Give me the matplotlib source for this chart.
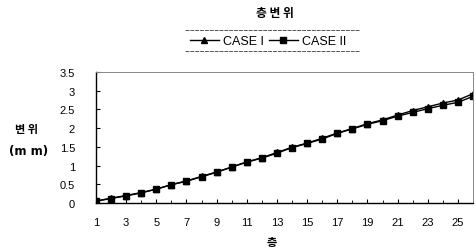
import matplotlib
matplotlib.use("Agg")
import matplotlib.pyplot as plt
from matplotlib.ticker import MultipleLocator
from matplotlib.lines import Line2D

plt.rcParams['font.family'] = ['Liberation Sans', 'Noto Sans CJK KR', 'DejaVu Sans']

floors = list(range(1, 27))
case1 = [0.05, 0.13, 0.20, 0.28, 0.37, 0.49, 0.59, 0.71, 0.83, 0.96, 1.10, 1.21, 1.35, 1.49, 1.60, 1.73,
         1.87, 1.99, 2.12, 2.22, 2.35, 2.47, 2.57, 2.67, 2.75, 2.92]
case2 = [0.05, 0.12, 0.19, 0.27, 0.37, 0.49, 0.58, 0.70, 0.82, 0.96, 1.09, 1.20, 1.33, 1.48, 1.59, 1.71,
         1.86, 1.98, 2.10, 2.20, 2.32, 2.42, 2.52, 2.61, 2.69, 2.85]
xticks = list(range(1, 26, 2))
yticks = [0, 0.5, 1, 1.5, 2, 2.5, 3, 3.5]
ytick_labels = ['0', '0.5', '1', '1.5', '2', '2.5', '3', '3.5']
title = "층 변 위"
labels = ["CASE I", "CASE II"]

W, H = 477, 253
fig = plt.figure(figsize=(W / 100, H / 100), dpi=100)
ax = fig.add_axes([96 / W, 1 - 204 / H, (473 - 96) / W, (204 - 73) / H])

ax.plot(floors, case1, color='black', lw=1.0, marker='^', ms=5, label=labels[0])
ax.plot(floors, case2, color='black', lw=1.0, marker='s', ms=4.5, label=labels[1])

ax.set_xlim(1, 26)
ax.set_ylim(0, 3.5)
ax.set_xticks(xticks)
ax.set_xticklabels([str(v) for v in xticks])
ax.xaxis.set_minor_locator(MultipleLocator(1))
ax.set_yticks(yticks)
ax.set_yticklabels(ytick_labels)

ax.tick_params(axis='both', labelsize=8, colors='black')
ax.tick_params(axis='x', which='major', direction='in', length=3, pad=10)
ax.tick_params(axis='x', which='minor', direction='in', length=2)
ax.tick_params(axis='y', direction='in', length=3, pad=15)

for s in ['left', 'bottom']:
    ax.spines[s].set_color('black')
    ax.spines[s].set_linewidth(1.0)
for s in ['top', 'right']:
    ax.spines[s].set_color('#888888')
    ax.spines[s].set_linewidth(0.7)
    ax.spines[s].set_linestyle((0, (1, 1)))

fig.text(275 / W, 1 - 13 / H, title, ha='center', va='center', fontsize=8.5,
         fontweight='bold', family=['Noto Sans CJK KR'])
fig.text(27 / W, 1 - 130 / H, "변 위", ha='center', va='center', fontsize=8,
         fontweight='bold', family=['Noto Sans CJK KR'])
fig.text(29 / W, 1 - 151 / H, "(m m)", ha='center', va='center', fontsize=8.5,
         fontweight='bold', family=['DejaVu Sans'])
fig.text(272 / W, 1 - 243 / H, "층", ha='center', va='center', fontsize=8,
         fontweight='bold', family=['Noto Sans CJK KR'])

leg = fig.legend(loc='center left', bbox_to_anchor=(190 / W, 1 - 42 / H), ncol=2, fontsize=9,
                 frameon=False, handlelength=2.3, handletextpad=0.35,
                 columnspacing=0.4, borderpad=0, borderaxespad=0)

for yy in (30.7, 51.7):
    fig.add_artist(Line2D([185 / W, 360 / W], [1 - yy / H, 1 - yy / H], transform=fig.transFigure,
                          color='#555555', lw=0.7, ls=(0, (4, 1))))

fig.savefig('out.png', dpi=100)
